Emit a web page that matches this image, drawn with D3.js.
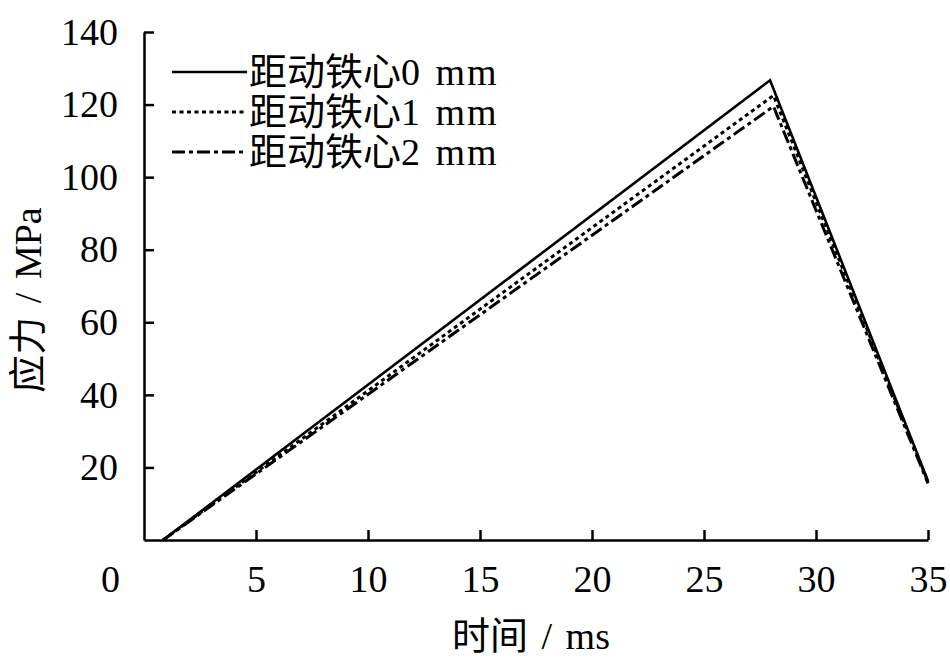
<!DOCTYPE html>
<html><head><meta charset="utf-8">
<script src="https://cdn.jsdelivr.net/npm/d3@7/dist/d3.min.js"></script>
<style>body{margin:0;background:#fff}svg{display:block}text{font-family:"Liberation Serif","Times New Roman","Noto Sans CJK SC",serif;fill:#000}</style>
</head><body><svg id="c" width="950" height="665"></svg>
<script>
const seriesNames = ["距动铁心0 mm", "距动铁心1 mm", "距动铁心2 mm"];
const timeValues = [[0.85, 27.95, 35], [0.85, 28.1, 35], [0.85, 28.1, 35]];
const stressValues = [[0, 126.7, 16.3], [0, 122.5, 16.0], [0, 119.5, 15.6]];
const xTicks = [0, 5, 10, 15, 20, 25, 30, 35];
const yTicks = [20, 40, 60, 80, 100, 120, 140];
const dashes = [null, "4,3.5", "13,4,4,4"];

const svg = d3.select("#c");
const m = {l: 144, r: 928, t: 32, b: 540};
const x = d3.scaleLinear().domain([0, 35]).range([m.l, m.r]);
const y = d3.scaleLinear().domain([0, 140]).range([m.b, m.t]);
const fs = 38;

// axes
const xa = svg.append("g").attr("transform", `translate(0,${m.b})`)
  .call(d3.axisBottom(x).tickValues(xTicks).tickSize(-10).tickPadding(25).tickSizeOuter(0));
xa.select(".domain").attr("stroke-width", 2.5);
xa.selectAll(".tick line").attr("stroke-width", 2.5).filter(d => d === 0).remove();
xa.selectAll(".tick text").attr("font-size", fs).attr("font-family", "Liberation Serif")
  .attr("dx", d => d === 0 ? -34 : 0);

const ya = svg.append("g").attr("transform", `translate(${m.l},0)`)
  .call(d3.axisLeft(y).tickValues(yTicks).tickSize(-10).tickPadding(26).tickSizeOuter(0));
ya.select(".domain").attr("stroke-width", 2.5);
ya.selectAll(".tick line").attr("stroke-width", 2.5);
ya.selectAll(".tick text").attr("font-size", fs).attr("font-family", "Liberation Serif");

// lines
const line = d3.line().x(d => x(d[0])).y(d => y(d[1]));
seriesNames.forEach((n, i) => {
  const pts = timeValues[i].map((t, j) => [t, stressValues[i][j]]);
  svg.append("path").attr("d", line(pts)).attr("fill", "none").attr("stroke", "#000")
    .attr("stroke-width", i === 0 ? 2.6 : 3).attr("stroke-dasharray", dashes[i]);
});

// legend
const lg = svg.append("g");
seriesNames.forEach((n, i) => {
  const yy = 72 + i * 40;
  lg.append("line").attr("x1", 172).attr("x2", 247).attr("y1", yy).attr("y2", yy)
    .attr("stroke", "#000").attr("stroke-width", i === 0 ? 2.6 : 3).attr("stroke-dasharray", dashes[i]);
  const t = lg.append("text").attr("x", 249).attr("y", yy).attr("dy", "0.35em").attr("font-size", fs);
  t.append("tspan").text(n.slice(0, 4));
  t.append("tspan").attr("letter-spacing", 2).attr("word-spacing", 2).text(n.slice(4));
});

// axis titles
svg.append("text").attr("x", 531).attr("y", 636).attr("dy", "0.35em").attr("text-anchor", "middle")
  .attr("font-size", fs).attr("word-spacing", 4).text("时间 / ms");
svg.append("text").attr("transform", "translate(28,300) rotate(-90)").attr("dy", "0.35em")
  .attr("text-anchor", "middle").attr("font-size", fs).attr("word-spacing", 4).text("应力 / MPa");
</script></body></html>
